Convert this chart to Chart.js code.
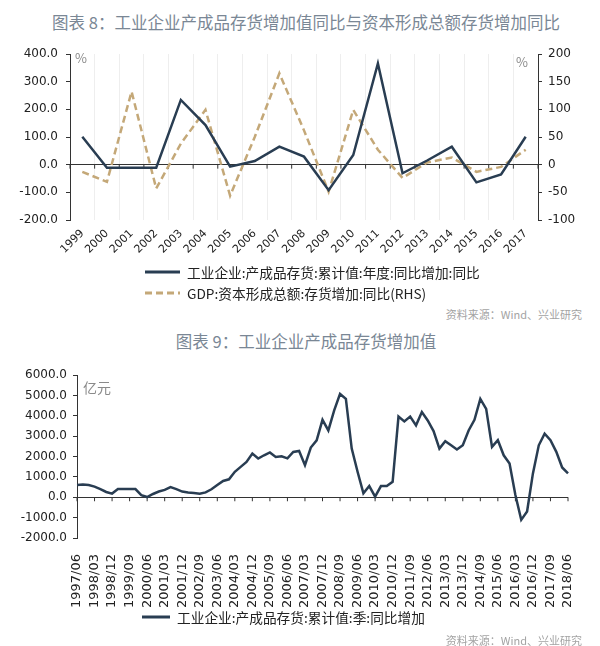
<!DOCTYPE html>
<html>
<head>
<meta charset="utf-8">
<script src="https://cdn.jsdelivr.net/npm/chart.js@4.4.1/dist/chart.umd.min.js"></script>
<style>
body { margin:0; background:#fff; width:600px; height:646px; position:relative; overflow:hidden; font-family:"Noto Sans CJK SC", sans-serif; }
.title { position:absolute; left:0; width:600px; padding-left:12px; box-sizing:border-box; text-align:center; font-size:16.5px; color:#7a8795; line-height:20px; }
.src { position:absolute; right:18px; font-size:11px; color:#a3a3a3; line-height:14px; }
canvas { position:absolute; left:0; }
.legend { position:absolute; font-size:13.7px; color:#222; }
.legend div { display:flex; align-items:center; height:21px; }
.legend svg { margin-right:7px; }
</style>
</head>
<body>
<div class="title" style="top:12px">图表 8：工业企业产成品存货增加值同比与资本形成总额存货增加同比</div>
<canvas id="c1" width="600" height="262" style="top:0"></canvas>
<div class="legend" id="leg1" style="left:145px; top:261px"></div>
<div class="src" style="top:307px">资料来源：Wind、兴业研究</div>

<div class="title" style="top:331px">图表 9：工业企业产成品存货增加值</div>
<canvas id="c2" width="600" height="290" style="top:320px"></canvas>
<div class="legend" id="leg2" style="left:142px; top:606px"></div>
<div class="src" style="top:633px">资料来源：Wind、兴业研究</div>

<script>
// chart 8: yearly yoy, %
const years = ['1999','2000','2001','2002','2003','2004','2005','2006','2007','2008',
	'2009','2010','2011','2012','2013','2014','2015','2016','2017'];
const industrialYoY = [101, -11, -11, -11, 234, 143, -7, 13, 65, 29, -92, 35, 366, -31, 15, 65, -64, -35, 101];
const gdpInventoryYoY = [-13, -31, 132, -43, 38, 99, -56, 50, 165, 62, -49, 99, 27, -24, 4, 13, -13, -4, 27];

// chart 9: quarterly, 亿元
const quarters = [];
for (let yr = 1997; yr <= 2018; yr++) {
	for (const m of ['03', '06', '09', '12']) {
		const lab = yr + '/' + m;
		if (lab >= '1997/06' && lab <= '2018/06') quarters.push(lab);
	}
}
const inventoryIncrease = [
	600, 620, 600, 520, 400, 260, 180, 400, 400, 400,
	400, 100, 10, 160, 280, 360, 500, 400, 280, 230,
	210, 170, 240, 390, 600, 800, 880, 1250, 1490, 1730,
	2140, 1900, 2060, 2200, 1980, 2010, 1910, 2220, 2270, 1575,
	2440, 2795, 3800, 3280, 4260, 5070, 4830, 2390, 1250, 190,
	550, 30, 550, 550, 760, 3960, 3720, 3960, 3530, 4180,
	3770, 3250, 2390, 2750, 2550, 2340, 2550, 3280, 3800, 4830,
	4340, 2470, 2800, 2060, 1660, 110, -1110, -700, 1170, 2550,
	3120, 2800, 2230, 1460, 1170
];

const navy = '#293d52';
const tan = '#c4a878';
const tickFont = { family: 'DejaVu Sans', size: 12 };

// small unit text at the top corners of the plot
const unitLabels = {
	id: 'unitLabels',
	afterDraw(chart, args, opts) {
		const { ctx, chartArea } = chart;
		ctx.save();
		ctx.font = opts.font;
		ctx.fillStyle = '#8a8a8a';
		ctx.textBaseline = 'middle';
		(opts.items || []).forEach(it => {
			ctx.textAlign = it.side === 'right' ? 'right' : 'left';
			const x = it.side === 'right' ? chartArea.right - it.dx : chartArea.left + it.dx;
			ctx.fillText(it.text, x, chartArea.top + it.dy);
		});
		ctx.restore();
	}
};

// little tick marks hanging under the zero line
const zeroTicks = {
	id: 'zeroTicks',
	beforeDatasetsDraw(chart, args, opts) {
		const x = chart.scales.x, y = chart.scales.y;
		const y0 = y.getPixelForValue(0);
		const n = chart.data.labels.length;
		const step = x.getPixelForValue(1) - x.getPixelForValue(0);
		const ctx = chart.ctx;
		ctx.save();
		ctx.strokeStyle = '#333';
		ctx.lineWidth = 1;
		ctx.beginPath();
		for (let i = 0; i < n; i += opts.every) {
			let px = x.getPixelForValue(i);
			if (opts.between) px -= step / 2;
			ctx.moveTo(px, y0);
			ctx.lineTo(px, y0 + 4);
		}
		if (opts.between) {
			const px = x.getPixelForValue(n - 1) + step / 2;
			ctx.moveTo(px, y0);
			ctx.lineTo(px, y0 + 4);
		}
		ctx.stroke();
		ctx.restore();
	}
};

function htmlLegend(chart, el, w) {
	chart.data.datasets.forEach(ds => {
		const row = document.createElement('div');
		const dash = (ds.borderDash || []).join(',');
		row.innerHTML = `<svg width="${w}" height="4"><line x1="0" y1="2" x2="${w}" y2="2" stroke="${ds.borderColor}" stroke-width="3" stroke-dasharray="${dash}"/></svg><span>${ds.label}</span>`;
		el.appendChild(row);
	});
}

const zeroGrid = c => c.tick.value === 0 ? '#333' : 'transparent';

const chart1 = new Chart(document.getElementById('c1'), {
	type: 'line',
	data: {
		labels: years,
		datasets: [{
			label: '工业企业:产成品存货:累计值:年度:同比增加:同比',
			data: industrialYoY,
			yAxisID: 'y',
			borderColor: navy,
			borderWidth: 2.5,
			pointRadius: 0,
			tension: 0
		}, {
			label: 'GDP:资本形成总额:存货增加:同比(RHS)',
			data: gdpInventoryYoY,
			yAxisID: 'y1',
			borderColor: tan,
			borderDash: [7, 4],
			borderWidth: 2.5,
			pointRadius: 0,
			tension: 0
		}]
	},
	options: {
		responsive: false,
		animation: false,
		devicePixelRatio: 1,
		layout: { padding: { top: 54, left: 0, right: 0, bottom: 0 } },
		plugins: {
			legend: { display: false },
			tooltip: { enabled: false },
			unitLabels: { font: '13px "Noto Sans CJK SC"', items: [
				{ text: '%', side: 'left', dx: 5, dy: 4 },
				{ text: '%', side: 'right', dx: 10, dy: 8 }
			] },
			zeroTicks: { every: 1, between: true }
		},
		scales: {
			x: {
				offset: true,
				grid: { offset: true, color: '#eeeeee', drawTicks: false },
				border: { display: false },
				ticks: { font: { family: 'DejaVu Sans', size: 11 }, color: '#222', minRotation: 45, maxRotation: 45, autoSkip: false, padding: 7 },
				afterFit: s => { s.height = 42; }
			},
			y: {
				position: 'left',
				min: -200, max: 400,
				ticks: { stepSize: 100, font: tickFont, color: '#222', padding: 8, callback: v => v.toFixed(1) },
				grid: { color: zeroGrid, tickColor: '#333', tickLength: 4 },
				border: { color: '#333' },
				afterFit: s => { s.width = 70; }
			},
			y1: {
				position: 'right',
				min: -100, max: 200,
				ticks: { stepSize: 50, font: tickFont, color: '#222', padding: 6 },
				grid: { drawOnChartArea: false, tickColor: '#333', tickLength: 4 },
				border: { color: '#333' },
				afterFit: s => { s.width = 62; }
			}
		}
	},
	plugins: [unitLabels, zeroTicks]
});
htmlLegend(chart1, document.getElementById('leg1'), 35);

const chart2 = new Chart(document.getElementById('c2'), {
	type: 'line',
	data: {
		labels: quarters,
		datasets: [{
			label: '工业企业:产成品存货:累计值:季:同比增加',
			data: inventoryIncrease,
			borderColor: navy,
			borderWidth: 2.5,
			pointRadius: 0,
			tension: 0
		}]
	},
	options: {
		responsive: false,
		animation: false,
		devicePixelRatio: 1,
		layout: { padding: { top: 55, left: 0, right: 32, bottom: 0 } },
		plugins: {
			legend: { display: false },
			tooltip: { enabled: false },
			unitLabels: { font: '14px "Noto Sans CJK SC"', items: [
				{ text: '亿元', side: 'left', dx: 6, dy: 13 }
			] },
			zeroTicks: { every: 3, between: false }
		},
		scales: {
			x: {
				grid: { display: false },
				border: { display: false },
				ticks: {
					font: { family: 'DejaVu Sans', size: 13 }, color: '#222',
					minRotation: 90, maxRotation: 90, autoSkip: false, padding: 8,
					callback: (v, i) => i % 3 === 0 ? quarters[i] : null
				},
				afterFit: s => { s.height = 72; }
			},
			y: {
				min: -2000, max: 6000,
				ticks: { stepSize: 1000, font: tickFont, color: '#222', padding: 6, callback: v => v.toFixed(1) },
				grid: { color: zeroGrid, tickColor: '#333', tickLength: 4 },
				border: { color: '#333' },
				afterFit: s => { s.width = 77; }
			}
		}
	},
	plugins: [unitLabels, zeroTicks]
});
htmlLegend(chart2, document.getElementById('leg2'), 28);
</script>
</body>
</html>
